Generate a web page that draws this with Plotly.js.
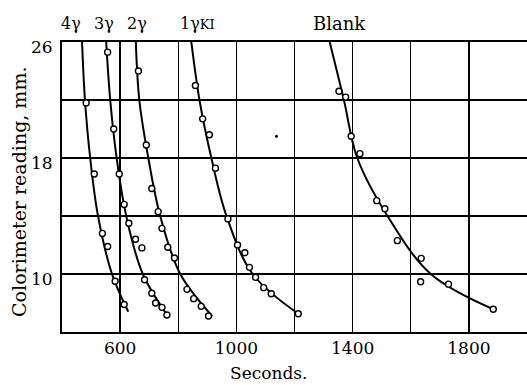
<!DOCTYPE html>
<html><head><meta charset="utf-8">
<script src="https://cdn.plot.ly/plotly-3.0.1.min.js"></script>
<style>html,body{margin:0;padding:0;background:#fff}#chart{width:527px;height:385px}</style>
</head><body><div id="chart"></div>
<script>
// Observed points (seconds, colorimeter reading mm)
const pts4x = [483, 511, 539, 557, 583, 614];
const pts4y = [21.8, 16.9, 12.8, 11.9, 9.5, 7.9];
const pts3x = [557, 578, 597, 614, 630, 653, 675, 684, 709, 722, 744, 761];
const pts3y = [25.3, 20.0, 16.9, 14.8, 13.5, 12.4, 11.8, 9.6, 8.67, 8.0, 7.7, 7.17];
const pts2x = [663, 690, 709, 731, 744, 764, 787, 830, 853, 879, 904];
const pts2y = [24.0, 18.9, 15.9, 14.3, 13.15, 11.84, 11.1, 8.94, 8.3, 7.77, 7.1];
const pts1x = [859, 884, 907, 928, 971, 1004, 1029, 1045, 1066, 1094, 1120, 1213];
const pts1y = [23.0, 20.7, 19.6, 17.3, 13.8, 12.0, 11.47, 10.46, 9.77, 9.06, 8.64, 7.26];
const ptsBx = [1353, 1376, 1395, 1425, 1483, 1511, 1554, 1636, 1634, 1730, 1884];
const ptsBy = [22.6, 22.2, 19.5, 18.3, 15.06, 14.5, 12.3, 11.08, 9.47, 9.3, 7.57];
const dotX = [1138];
const dotY = [19.5];

// Hand-drawn fitted curves
const crv4x = [469, 479, 497, 524, 572, 628];
const crv4y = [26, 22, 18, 14, 10, 7.4];
const crv3x = [552, 566, 588, 621, 678, 766];
const crv3y = [26, 22, 18, 14, 10, 7.05];
const crv2x = [654, 666, 697, 738, 807, 917];
const crv2y = [26, 22, 18, 14, 10, 7.1];
const crv1x = [845, 873, 914, 966, 1056, 1213];
const crv1y = [26, 22, 18, 14, 10, 7.26];
const crvBx = [1321, 1370, 1416, 1520, 1669, 1884];
const crvBy = [26, 22, 18, 14, 10, 7.57];

const curveLabels = ['4γ', '3γ', '2γ', "1γ<span style='font-size:13px'>KI</span>", 'Blank'];
const curveLabelX = [431, 545, 659, 865, 1355];
const curveLabelSize = [16, 16, 16, 16, 18];

const xTickVals = [600, 800, 1000, 1200, 1400, 1600, 1800];
const xTickText = ['600', '', '1000', '', '1400', '', '1800'];
const yTickVals = [10, 14, 18, 22, 26];
const yTickText = ['10', '', '18', '', '26'];

const font = 'DejaVu Serif, Liberation Serif, serif';
const traces = [];
const curves = [[crv4x, crv4y], [crv3x, crv3y], [crv2x, crv2y], [crv1x, crv1y], [crvBx, crvBy]];
curves.forEach(c => traces.push({x: c[0], y: c[1], mode: 'lines', line: {color: '#000', width: 2, shape: 'spline', smoothing: 1}, hoverinfo: 'skip'}));
const pts = [[pts4x, pts4y], [pts3x, pts3y], [pts2x, pts2y], [pts1x, pts1y], [ptsBx, ptsBy]];
pts.forEach(p => traces.push({x: p[0], y: p[1], mode: 'markers', marker: {symbol: 'circle', size: 6, color: '#fff', line: {color: '#000', width: 1.4}}}));
traces.push({x: dotX, y: dotY, mode: 'markers', marker: {size: 3, color: '#000'}});

const annotations = curveLabels.map((t, i) => ({x: curveLabelX[i], xref: 'x', y: 1.065, yref: 'paper', text: t, showarrow: false, font: {family: font, size: curveLabelSize[i], color: '#000'}, xanchor: 'center', yanchor: 'middle'}));
annotations.push({x: -0.0925, xref: 'paper', xanchor: 'center', y: 0.483, yref: 'paper', yanchor: 'middle', text: 'Colorimeter reading, mm.', textangle: -90, showarrow: false, font: {family: font, size: 19, color: '#000'}});
annotations.push({x: 1109, xref: 'x', xanchor: 'center', y: -0.141, yref: 'paper', yanchor: 'middle', text: 'Seconds.', showarrow: false, font: {family: font, size: 17, color: '#000'}});

const layout = {
  width: 527, height: 385,
  margin: {l: 62, r: 0, t: 42, b: 53},
  paper_bgcolor: '#fff', plot_bgcolor: '#fff',
  showlegend: false,
  xaxis: {range: [400, 2000], tickvals: xTickVals, ticktext: xTickText, showgrid: true, gridcolor: '#000', gridwidth: 1.3, zeroline: false, showline: true, linecolor: '#000', linewidth: 2, ticks: '', tickfont: {family: font, size: 17, color: '#000'}, mirror: true},
  yaxis: {range: [6, 26], tickvals: yTickVals, ticktext: yTickText, showgrid: true, gridcolor: '#000', gridwidth: 1.3, zeroline: false, showline: true, linecolor: '#000', linewidth: 2, ticks: '', tickfont: {family: font, size: 17, color: '#000'}, mirror: false, ticklabelstandoff: 4, ticklabelshift: 5},
  annotations: annotations
};
Plotly.newPlot('chart', traces, layout, {staticPlot: true});
</script></body></html>
